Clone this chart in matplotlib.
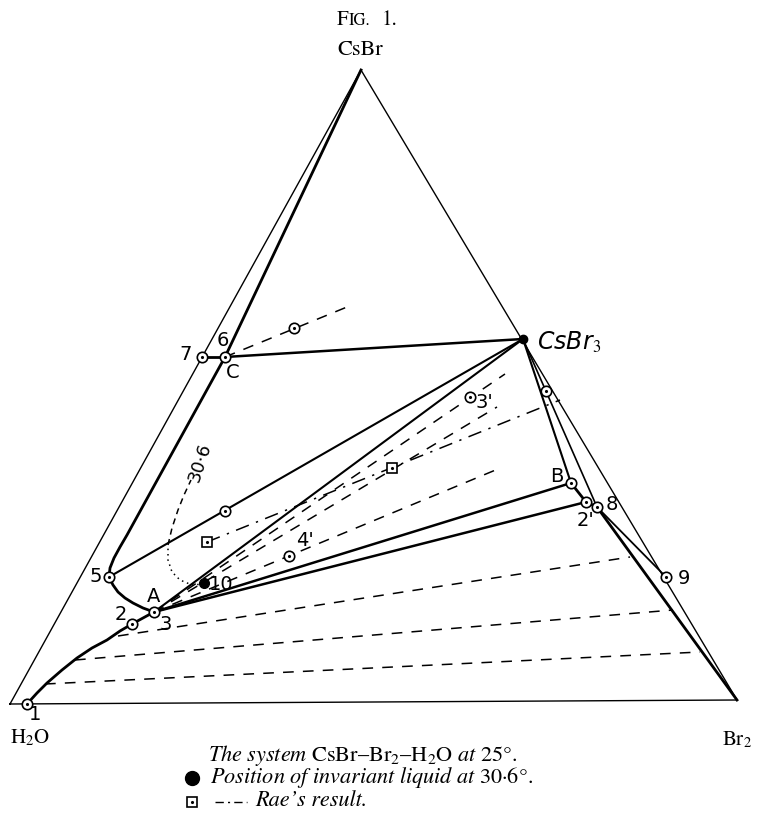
import matplotlib.pyplot as plt

plt.rcParams['mathtext.fontset'] = 'stix'
plt.rcParams['font.family'] = ['STIXGeneral', 'DejaVu Serif']

# triangle corners H2O, CsBr, Br2 (figure pixels, y down)
corner_x = [10, 361, 737]
corner_y = [704, 70, 700]

# ringed experimental points
ring_x = [27, 132, 154, 109, 202, 225, 571, 586, 597, 666, 470, 289, 225, 294, 546]
ring_y = [704, 624, 612, 577, 357, 357, 483, 502, 507, 577, 397, 556, 511, 328, 391]

# solubility curves (heavy)
curve_1A_x = [27, 37, 47, 62, 77, 92, 107, 120, 132, 154]
curve_1A_y = [704, 693, 683, 670, 658, 648, 640, 631, 624, 612]
curve_A5_x = [154, 143, 133, 125, 118, 113, 109]
curve_A5_y = [612, 608, 603, 598, 592, 585, 577]
curve_5C_x = [109, 110, 114, 120, 127, 225, 361]
curve_5C_y = [577, 568, 558, 547, 535, 357, 70]
curve_B_x = [571, 586, 597, 737]
curve_B_y = [483, 502, 507, 700]

# straight solid tie lines
solid_x0 = [202, 225, 109, 154, 154, 154, 523, 523, 597]
solid_y0 = [357, 357, 577, 612, 612, 612, 339, 339, 507]
solid_x1 = [225, 523, 523, 523, 571, 586, 571, 597, 666]
solid_y1 = [357, 339, 339, 339, 483, 502, 483, 507, 577]
solid_w = [2.0, 1.8, 1.5, 1.5, 1.8, 1.8, 1.5, 1.2, 1.3]

# dashed tie lines
dash_x0 = [154, 154, 154, 118, 75, 45, 225]
dash_y0 = [612, 612, 612, 636, 660, 684, 357]
dash_x1 = [505, 497, 498, 630, 673, 700, 347]
dash_y1 = [374, 407, 469, 557, 610, 652, 307]

# Rae's result
rae_x = [207, 392]
rae_y = [542, 468]
rae_line_x = [207, 560]
rae_line_y = [542, 400]

# 30.6 deg isotherm (dotted then dashed)
iso_dot_x = [204, 192, 180, 172, 168, 168]
iso_dot_y = [584, 585, 580, 572, 560, 545]
iso_dash_x = [168, 172, 178, 184, 191]
iso_dash_y = [545, 528, 510, 495, 480]
inv30_x, inv30_y = 204, 583

# hand-written labels
lab_text = ['1', '2', 'A', '3', '5', '7', '6', 'C', 'B', "2'", '8', '9', "3'", "4'", '10']
lab_x = [35, 121, 154, 166, 96, 186, 223, 233, 557, 585, 612, 684, 484, 305, 221]
lab_y = [714, 614, 597, 624, 577, 355, 340, 372, 476, 520, 505, 578, 402, 540, 584]

fig = plt.figure(figsize=(7.61, 8.15), dpi=100)
ax = fig.add_axes([0, 0, 1, 1])
ax.set_xlim(0, 761)
ax.set_ylim(815, 0)
ax.axis('off')

k = 'black'
ax.plot(corner_x + corner_x[:1], corner_y + corner_y[:1], color=k, lw=1.0)

ax.plot(curve_1A_x, curve_1A_y, color=k, lw=2.0)
ax.plot(curve_A5_x, curve_A5_y, color=k, lw=2.0)
ax.plot(curve_5C_x, curve_5C_y, color=k, lw=2.0)
ax.plot(curve_B_x, curve_B_y, color=k, lw=2.0)

for x0, y0, x1, y1, w in zip(solid_x0, solid_y0, solid_x1, solid_y1, solid_w):
    ax.plot([x0, x1], [y0, y1], color=k, lw=w)

for x0, y0, x1, y1 in zip(dash_x0, dash_y0, dash_x1, dash_y1):
    ax.plot([x0, x1], [y0, y1], color=k, lw=1.1, dashes=(7, 6))

ax.plot(rae_line_x, rae_line_y, color=k, lw=1.1, dashes=(9, 5, 1.5, 5))
ax.plot(rae_x, rae_y, 's', ms=7, mfc='white', mec=k, mew=1.2, zorder=5)
ax.plot(rae_x, rae_y, '.', ms=2.5, color=k, zorder=6)

ax.plot(iso_dot_x, iso_dot_y, color=k, lw=1.1, dashes=(1, 2.5))
ax.plot(iso_dash_x, iso_dash_y, color=k, lw=1.1, dashes=(4, 3))
ax.text(200, 462, '30·6', rotation=72, fontsize=13, family='DejaVu Sans',
        ha='center', va='center')

ax.plot(ring_x, ring_y, 'o', ms=7.5, mfc='white', mec=k, mew=1.2, zorder=5)
ax.plot(ring_x, ring_y, '.', ms=2.5, color=k, zorder=6)
ax.plot([inv30_x], [inv30_y], 'o', ms=7, color=k, zorder=6)
ax.plot([523], [339], 'o', ms=6, mfc=k, mec=k, zorder=6)

for t, x, y in zip(lab_text, lab_x, lab_y):
    ax.text(x, y, t, fontsize=14, family='DejaVu Sans', ha='center', va='center')
ax.text(537, 342, 'CsBr$_3$', fontsize=17, family='DejaVu Sans', style='italic',
        ha='left', va='center')

# corner names and captions
ax.text(337, 20, 'F', fontsize=15, ha='left', va='center')
ax.text(349, 21, 'IG.', fontsize=12, ha='left', va='center')
ax.text(382, 20, '1.', fontsize=15, ha='left', va='center')
ax.text(360, 50, 'CsBr', fontsize=16, ha='center', va='center')
ax.text(30, 738, r'H$_2$O', fontsize=15, ha='center', va='center')
ax.text(722, 740, r'Br$_2$', fontsize=15, ha='left', va='center')

ax.text(208, 755, r'$\mathit{The\ system}\ \mathrm{CsBr–Br_2–H_2O}\ \mathit{at}\ \mathrm{25°.}$',
        fontsize=16, ha='left', va='center')
ax.plot([192], [778], 'o', ms=10, color=k)
ax.text(210, 778, r'$\mathit{Position\ of\ invariant\ liquid\ at}\ \mathrm{30·6°.}$',
        fontsize=16, ha='left', va='center')
ax.plot([192], [802], 's', ms=7, mfc='white', mec=k, mew=1.2)
ax.plot([192], [802], '.', ms=2.5, color=k)
ax.plot([215, 247], [802, 802], color=k, lw=1.0, dashes=(6, 3, 1.5, 3))
ax.text(255, 801, 'Rae’s result.', fontsize=16, style='italic', ha='left', va='center')

fig.savefig('out.png', dpi=100)
